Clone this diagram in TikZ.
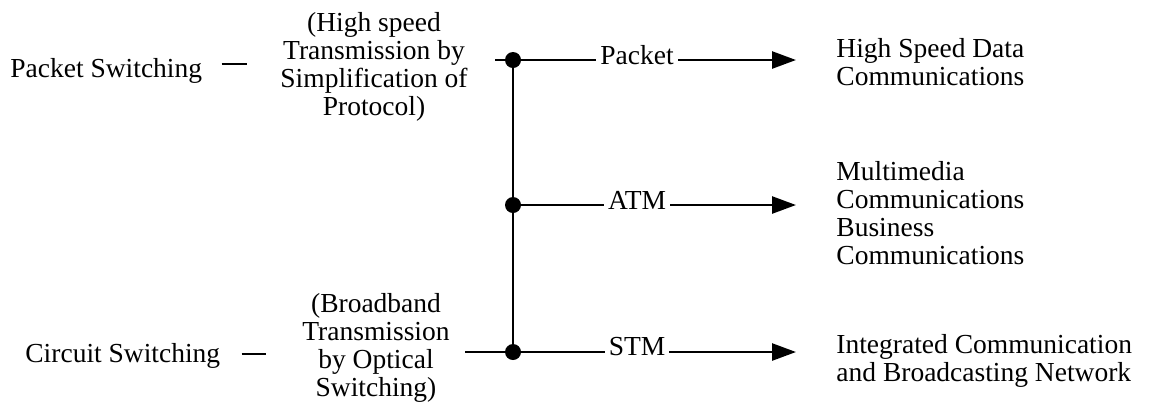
\documentclass[tikz,border=0pt]{standalone}
\usepackage{fontspec}
\setmainfont{Liberation Serif}
\usetikzlibrary{arrows.meta}
\tikzset{
  txt/.style={inner sep=0pt, font=\fontsize{13.75pt}{14pt}\selectfont},
  blk/.style={txt, align=center, anchor=base},
  rgt/.style={txt, align=left, anchor=base west},
  bus/.style={line width=1.3pt},
  dashln/.style={line width=1pt},
  junction/.style={circle, fill, inner sep=0pt, minimum size=8pt},
  feed/.style={bus, shorten >=20pt, -{Triangle[length=12pt,width=8.5pt]}},
  lbl/.style={txt, fill=white, inner xsep=2pt, pos=0.384, yshift=2.5pt}
}
\begin{document}
\begin{tikzpicture}[x={(0.5pt,0pt)}, y={(0pt,-0.5pt)}]
\useasboundingbox (0,0) rectangle (1154,404);
% switching kinds
\node[txt, anchor=base west] (ps) at (10,77) {Packet Switching};
\node[txt, anchor=base west] (cs) at (25,362) {Circuit Switching};
\node[blk] (hs) at (374,115) {(High speed\\Transmission by\\Simplification of\\Protocol)}; %last line
\node[blk] (bt) at (376,396) {(Broadband\\Transmission\\by Optical\\Switching)}; %last line
\draw[dashln, shorten <=9.5pt, shorten >=16.5pt] ([yshift=3.3pt]ps.east) -- ([yshift=3.3pt]ps.east -| hs.west);
\draw[dashln, shorten <=10.5pt, shorten >=18pt] ([yshift=0.5pt]cs.east) -- ([yshift=0.5pt]cs.east -| bt.west);

% bus
\node[junction] (j1) at (513,60) {};
\node[junction] (j2) at (513,205) {};
\node[junction] (j3) at (513,352) {};
\coordinate (s1) at (495,60); %stub
\coordinate (s3) at (465,352); %stub
\draw[bus] (j1.center) -- (j3.center);
\draw[bus] (s1) -- (j1.center);
\draw[bus] (s3) -- (j3.center);

% services
\node[rgt] (hsd) at (836,85) {High Speed Data\\Communications};
\node[rgt] (mmc) at (836,264) {Multimedia\\Communications\\Business\\Communications};
\node[rgt] (icb) at (836,381) {Integrated Communication\\and Broadcasting Network};
\draw[feed] (j1.center) -- node[lbl] {Packet} (j1 -| hsd.west);
\draw[feed] (j2.center) -- node[lbl] {ATM} (j2 -| mmc.west);
\draw[feed] (j3.center) -- node[lbl] {STM} (j3 -| icb.west);
\end{tikzpicture}
\end{document}
